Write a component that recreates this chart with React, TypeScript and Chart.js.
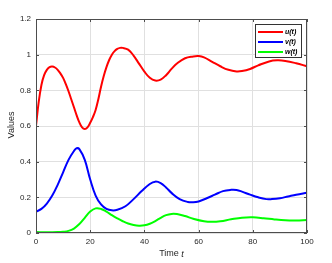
import React, { useEffect, useRef } from "react";
import { Chart, registerables } from "chart.js";

Chart.register(...registerables);

const seriesLabels = ["u(t)", "v(t)", "w(t)"];
const seriesColors = ["#ff0000", "#0000ff", "#00ff00"];

const uT = [0, 1, 2, 3, 4, 5, 6, 7, 8, 9, 10, 11, 12, 13, 14, 15, 16, 17, 18, 19, 20, 21, 22, 23, 24, 25, 26, 27, 28, 29, 30, 31, 32, 34, 36, 38, 40, 42, 44, 46, 48, 50, 52, 55, 58, 60, 62, 65, 68, 71, 74, 76, 79, 82, 86, 89, 92, 96, 100];
const uV = [0.6, 0.735, 0.83, 0.885, 0.915, 0.93, 0.933, 0.928, 0.915, 0.895, 0.87, 0.835, 0.795, 0.75, 0.705, 0.66, 0.62, 0.592, 0.583, 0.592, 0.618, 0.65, 0.69, 0.75, 0.82, 0.88, 0.93, 0.97, 1.0, 1.02, 1.032, 1.038, 1.038, 1.028, 0.995, 0.95, 0.905, 0.87, 0.855, 0.86, 0.885, 0.92, 0.95, 0.98, 0.99, 0.992, 0.985, 0.96, 0.935, 0.915, 0.906, 0.908, 0.92, 0.94, 0.962, 0.968, 0.965, 0.952, 0.935];

const vT = [0, 2, 4, 6, 8, 10, 12, 14, 15, 16, 18, 20, 22, 24, 26, 28, 30, 33, 36, 39, 42, 44, 46, 48, 50, 53, 56, 58, 60, 63, 66, 69, 72, 74, 76, 79, 82, 85, 87, 90, 93, 96, 100];
const vV = [0.12, 0.135, 0.165, 0.21, 0.27, 0.34, 0.41, 0.46, 0.475, 0.47, 0.41, 0.3, 0.21, 0.16, 0.135, 0.127, 0.13, 0.15, 0.19, 0.235, 0.275, 0.288, 0.28, 0.255, 0.225, 0.19, 0.174, 0.172, 0.177, 0.195, 0.215, 0.235, 0.242, 0.241, 0.232, 0.215, 0.2, 0.19, 0.19, 0.195, 0.205, 0.215, 0.226];

const wT = [0, 4, 8, 10, 12, 14, 16, 18, 20, 22, 24, 26, 28, 30, 32, 34, 36, 38, 40, 42, 44, 46, 48, 50, 52, 55, 58, 62, 65, 68, 72, 76, 80, 84, 88, 92, 96, 100];
const wV = [0.005, 0.004, 0.005, 0.007, 0.012, 0.025, 0.05, 0.085, 0.12, 0.138, 0.135, 0.12, 0.1, 0.082, 0.066, 0.053, 0.045, 0.041, 0.043, 0.052, 0.067, 0.085, 0.1, 0.107, 0.106, 0.095, 0.08, 0.066, 0.063, 0.066, 0.077, 0.086, 0.088, 0.083, 0.076, 0.071, 0.07, 0.073];

const xTicks = [0, 20, 40, 60, 80, 100];
const yTicks = [0, 0.2, 0.4, 0.6, 0.8, 1, 1.2];

const FONT = "'Liberation Sans', Arial, sans-serif";
const TEXT = "#262626";

const framePlugin = {
  id: "frame",
  afterDraw(chart: any) {
    const { ctx, chartArea: a, scales } = chart;
    ctx.save();
    ctx.strokeStyle = "#4d4d4d";
    ctx.lineWidth = 1;
    ctx.strokeRect(a.left + 0.5, a.top + 0.5, a.right - a.left - 1, a.bottom - a.top - 1);
    const tl = 3;
    ctx.beginPath();
    xTicks.forEach((t) => {
      const x = Math.round(scales.x.getPixelForValue(t)) + 0.5;
      ctx.moveTo(x, a.bottom);
      ctx.lineTo(x, a.bottom - tl);
      ctx.moveTo(x, a.top);
      ctx.lineTo(x, a.top + tl);
    });
    yTicks.forEach((t) => {
      const y = Math.round(scales.y.getPixelForValue(t)) + 0.5;
      ctx.moveTo(a.left, y);
      ctx.lineTo(a.left + tl, y);
      ctx.moveTo(a.right, y);
      ctx.lineTo(a.right - tl, y);
    });
    ctx.stroke();

    ctx.fillStyle = TEXT;
    ctx.textBaseline = "middle";
    const cx = (a.left + a.right) / 2;
    ctx.font = `9px ${FONT}`;
    const w1 = ctx.measureText("Time ").width;
    ctx.font = `italic 9px ${FONT}`;
    const w2 = ctx.measureText("t").width;
    const sx = cx - (w1 + w2) / 2;
    ctx.textAlign = "left";
    ctx.font = `9px ${FONT}`;
    ctx.fillText("Time ", sx, 254);
    ctx.font = `italic 9px ${FONT}`;
    ctx.fillText("t", sx + w1, 254);

    ctx.save();
    ctx.translate(12, 125);
    ctx.rotate(-Math.PI / 2);
    ctx.textAlign = "center";
    ctx.font = `9px ${FONT}`;
    ctx.fillText("Values", 0, 0);
    ctx.restore();

    const lx = 255, ly = 24, lw = 46, lh = 33;
    ctx.fillStyle = "#ffffff";
    ctx.fillRect(lx, ly, lw, lh);
    ctx.strokeStyle = "#333333";
    ctx.lineWidth = 1;
    ctx.strokeRect(lx + 0.5, ly + 0.5, lw, lh);
    const rows = [32, 42, 52];
    seriesLabels.forEach((lab, i) => {
      ctx.strokeStyle = seriesColors[i];
      ctx.lineWidth = 2;
      ctx.beginPath();
      ctx.moveTo(258, rows[i]);
      ctx.lineTo(283, rows[i]);
      ctx.stroke();
      ctx.fillStyle = "#000";
      ctx.font = `italic bold 7px ${FONT}`;
      ctx.textAlign = "left";
      ctx.textBaseline = "middle";
      ctx.fillText(lab, 285, rows[i] + 0.5);
    });
    ctx.restore();
  },
};

export default function App() {
  const ref = useRef<HTMLCanvasElement>(null);
  useEffect(() => {
    document.body.style.margin = "0";
    const mk = (ts: number[], vs: number[]) => ts.map((t, i) => ({ x: t, y: vs[i] }));
    const data = [mk(uT, uV), mk(vT, vV), mk(wT, wV)];
    const chart = new Chart(ref.current!, {
      type: "line",
      data: {
        datasets: data.map((d, i) => ({
          label: seriesLabels[i],
          data: d,
          borderColor: seriesColors[i],
          borderWidth: 2,
          pointRadius: 0,
          fill: false,
          tension: 0.4,
        })),
      },
      options: {
        responsive: false,
        animation: false,
        layout: { padding: { left: 0, right: 25, top: 19, bottom: 0 } },
        plugins: { legend: { display: false }, tooltip: { enabled: false } },
        scales: {
          x: {
            type: "linear",
            min: 0,
            max: 100,
            afterBuildTicks: (s: any) => {
              s.ticks = xTicks.map((v) => ({ value: v }));
            },
            afterFit: (s: any) => {
              s.height = 30;
            },
            grid: { color: "#e0e0e0", drawTicks: false, tickLength: 0 },
            border: { display: false },
            ticks: {
              padding: 4,
              color: TEXT,
              font: { family: FONT, size: 8 },
              maxRotation: 0,
            },
          },
          y: {
            type: "linear",
            min: 0,
            max: 1.2,
            afterBuildTicks: (s: any) => {
              s.ticks = yTicks.map((v) => ({ value: v }));
            },
            afterFit: (s: any) => {
              s.width = 36;
            },
            grid: { color: "#e0e0e0", drawTicks: false, tickLength: 0 },
            border: { display: false },
            ticks: {
              padding: 5,
              color: TEXT,
              font: { family: FONT, size: 8 },
              callback: (v: any) => String(Math.round(Number(v) * 10) / 10),
            },
          },
        },
      },
      plugins: [framePlugin],
    });
    return () => chart.destroy();
  }, []);
  return (
    <div style={{ width: 332, height: 263, background: "#fff" }}>
      <canvas ref={ref} width={332} height={263} style={{ display: "block" }} />
    </div>
  );
}
